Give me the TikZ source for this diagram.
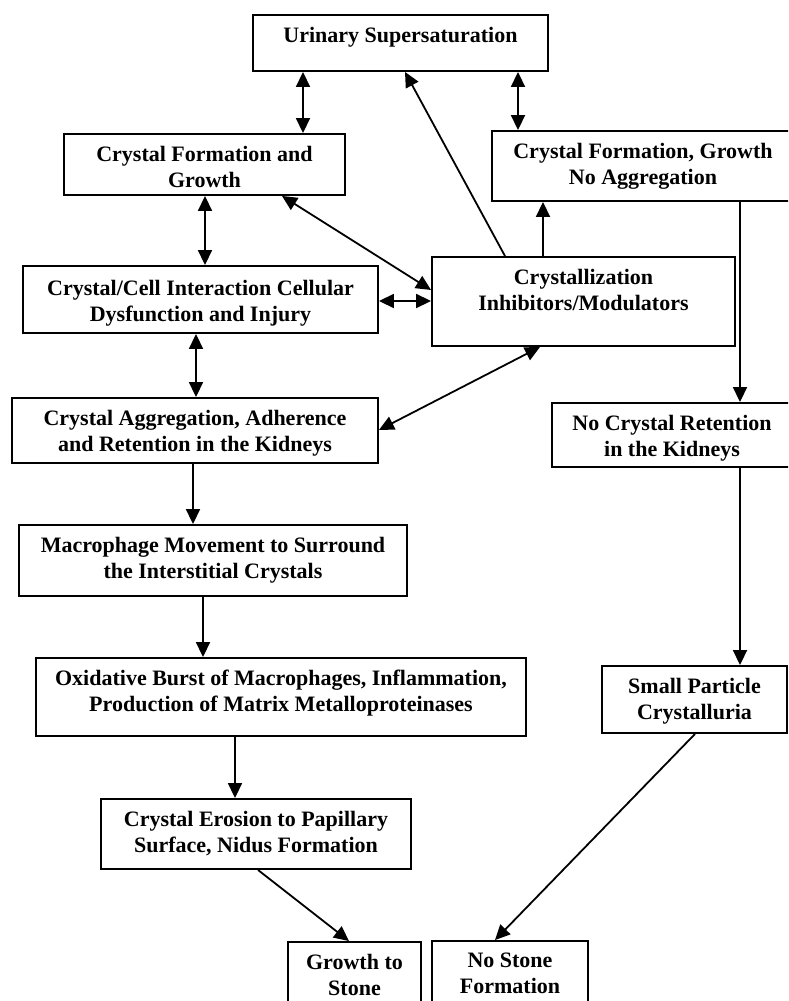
\documentclass[tikz,border=0pt]{standalone}
\usepackage{fontspec}
\setmainfont{Liberation Serif}
\usetikzlibrary{arrows.meta,calc}
\begin{document}
\begin{tikzpicture}[x=1pt,y=-1pt,
  box/.style={draw, line width=1.9pt, rectangle, inner sep=0pt},
  txt/.style={anchor=north, inner sep=0pt, align=center, font=\fontsize{22}{25.5}\selectfont\bfseries},
  arr/.style={line width=1.8pt, -{Triangle[length=15pt,width=14pt]}},
  dbl/.style={line width=1.8pt, {Triangle[length=15pt,width=14pt]}-{Triangle[length=15pt,width=14pt]}}
]
\useasboundingbox (0,0) rectangle (788,1001);
\clip (0,0) rectangle (788,1001);
\fill[white] (0,0) rectangle (788,1001);
% boxes
\node[box, minimum width=295pt, minimum height=56pt] (us) at (400.5,43) {};
\node[box, minimum width=281pt, minimum height=61pt] (cfg) at (204.5,164.5) {};
\node[box, minimum width=302pt, minimum height=70pt] (cfna) at (643,166) {};
\node[box, minimum width=355pt, minimum height=67pt] (cci) at (200.5,299.5) {};
\node[box, minimum width=303pt, minimum height=89pt] (inh) at (583.5,301.5) {};
\node[box, minimum width=366pt, minimum height=65pt] (cag) at (195,430.5) {};
\node[box, minimum width=240pt, minimum height=64pt] (ncr) at (672,435) {};
\node[box, minimum width=388pt, minimum height=71pt] (mac) at (213,560.5) {};
\node[box, minimum width=490pt, minimum height=78pt] (oxb) at (281,697) {};
\node[box, minimum width=185pt, minimum height=67pt] (spc) at (694.5,699.5) {};
\node[box, minimum width=310pt, minimum height=70pt] (ero) at (256,834) {};
\node[box, minimum width=133pt, minimum height=68pt] (gts) at (354.5,976) {};
\node[box, minimum width=156pt, minimum height=69pt] (nsf) at (510,975.5) {};
% texts
\node[txt] (tus) at ([yshift=-13pt]us.north) {Urinary Supersaturation};
\node[txt] (tcfg) at ([yshift=-13pt]cfg.north) {Crystal Formation and\\Growth};
\node[txt] (tcfna) at ([yshift=-13pt]cfna.north) {Crystal Formation, Growth\\No Aggregation};
\node[txt] (tcci) at ([yshift=-15pt]cci.north) {Crystal/Cell Interaction Cellular\\Dysfunction and Injury};
\node[txt] (tinh) at ([yshift=-13pt]inh.north) {Crystallization\\Inhibitors/Modulators};
\node[txt] (tcag) at ([yshift=-13pt]cag.north) {Crystal Aggregation, Adherence\\and Retention in the Kidneys};
\node[txt] (tncr) at ([yshift=-13pt]ncr.north) {No Crystal Retention\\in the Kidneys};
\node[txt] (tmac) at ([yshift=-13pt]mac.north) {Macrophage Movement to Surround\\the Interstitial Crystals};
\node[txt] (toxb) at ([yshift=-13pt]oxb.north) {Oxidative Burst of Macrophages, Inflammation,\\Production of Matrix Metalloproteinases};
\node[txt] (tspc) at ([yshift=-13pt]spc.north) {Small Particle\\Crystalluria};
\node[txt] (tero) at ([yshift=-13pt]ero.north) {Crystal Erosion to Papillary\\Surface, Nidus Formation};
\node[txt] (tgts) at ([yshift=-13pt]gts.north) {Growth to\\Stone};
\node[txt] (tnsf) at ([yshift=-13pt]nsf.north) {No Stone\\Formation};
% connectors
\draw[dbl] (us.south -| 303,0) -- (cfg.north -| 303,0);
\draw[dbl] (us.south -| 518,0) -- (cfna.north -| 518,0);
\draw[dbl] (cfg.south -| 205,0) -- (cci.north -| 205,0);
\draw[dbl] (cfg.south -| 282,0) -- (inh.west |- 0,290);
\draw[dbl] (cci.east |- 0,301) -- (inh.west |- 0,301);
\draw[arr] (inh.north -| 505,0) -- (us.south -| 405,0);
\draw[arr] (inh.north -| 543,0) -- (cfna.south -| 543,0);
\draw[dbl] (cci.south -| 196,0) -- (cag.north -| 196,0);
\draw[dbl] (cag.east |- 0,430) -- (inh.south -| 540,0);
\draw[arr] (cfna.south -| 740,0) -- (ncr.north -| 740,0);
\draw[arr] (cag.south -| 193,0) -- (mac.north -| 193,0);
\draw[arr] (mac.south -| 203,0) -- (oxb.north -| 203,0);
\draw[arr] (oxb.south -| 235,0) -- (ero.north -| 235,0);
\draw[arr] (ncr.south -| 740,0) -- (spc.north -| 740,0);
\draw[arr] (ero.south -| 258,0) -- (gts.north -| 349,0);
\draw[arr] (spc.south -| 695,0) -- (nsf.north -| 495,0);
\end{tikzpicture}
\end{document}
